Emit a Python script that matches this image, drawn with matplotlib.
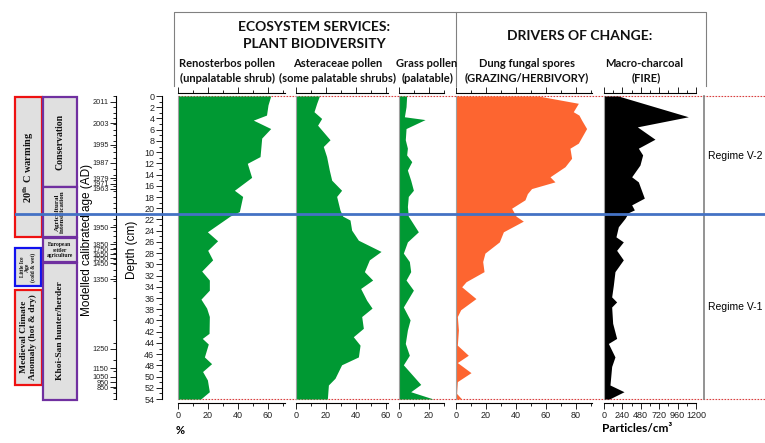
import matplotlib
matplotlib.use('Agg')
import matplotlib.pyplot as plt
from matplotlib.patches import Rectangle

plt.rcParams['font.family'] = ['Liberation Sans', 'DejaVu Sans']
plt.rcParams['mathtext.fontset'] = 'stix'

# ---- data (depth in cm) ----
reno_depth = [0, 1.6, 3.4, 4.3, 5.8, 7.5, 10.8, 12.0, 14.5, 16.8, 17.9, 20.6, 21.4, 24.2, 25.8,
              27.5, 29.2, 31.2, 32.8, 34.6, 36.2, 37.8, 39.3, 42.3, 43.2, 44.2, 46.5, 47.7,
              49.1, 50.6, 52.7, 54]
reno_pct = [61.8, 60, 59, 50.2, 61.8, 55.8, 54.7, 46.2, 49.1, 37.6, 43.1, 40.9, 34.7, 19.6, 26.4,
            19.8, 23.1, 15.8, 20.9, 20.9, 15.3, 19.1, 20.9, 20.7, 16.2, 20.2, 17.6, 22.4,
            16.4, 19.6, 20.9, 15.1]

aster_depth = [0, 1.3, 2.8, 4.0, 5.2, 7.8, 9.0, 10.8, 13.2, 15.0, 16.8, 17.9, 20.3, 21.4, 22.1,
               23.9, 25.7, 27.7, 29.2, 31.3, 32.8, 34.3, 36.4, 37.8, 39.3, 41.4, 42.9, 44.4,
               46.5, 47.9, 50.3, 51.5, 54]
aster_pct = [15.6, 13.8, 12, 17.1, 14.4, 22.7, 18.2, 20.4, 22.2, 23.8, 30.4, 27.1, 29.3, 31.1, 36,
             37.1, 41.6, 56.7, 48.9, 45.6, 51.1, 43.1, 47.1, 50.7, 43.8, 44.9, 38.2, 42.7,
             41.6, 30.4, 26, 21.6, 20.9]

grass_depth = [0, 1.9, 3.7, 4.2, 5.8, 7.8, 9.3, 10.5, 11.7, 13.2, 15.0, 16.8, 17.9, 19.7, 21.4,
               24.2, 26.0, 28.0, 29.5, 31.3, 32.8, 34.6, 37.6, 39.9, 41.7, 44.1, 46.2, 47.9,
               51.4, 52.7, 54]
grass_pct = [5.3, 4.9, 3.8, 17.6, 4.9, 4.4, 5.8, 5.3, 8.7, 5.8, 8, 9.8, 6.4, 5.8, 6.4,
             13.1, 5.8, 3.1, 7.1, 8, 4.9, 9.8, 3.1, 7.6, 5.8, 4.4, 7.1, 3.1,
             14.7, 8, 23.1]

dung_depth = [0, 1.3, 2.8, 3.4, 4.3, 5.8, 8.4, 9.3, 11.1, 12.6, 14.4, 15.3, 16.5, 17.4, 18.5,
              20.0, 21.4, 22.3, 24.2, 26.0, 28.0, 29.5, 31.3, 33.1, 34.0, 36.1, 38.1, 39.3,
              41.7, 44.4, 46.2, 47.5, 49.3, 50.9, 53.0, 54]
dung_pct = [54.9, 81.6, 78.2, 82, 83.8, 87.1, 81.6, 76, 77.1, 72.7, 62.7, 66, 50.4, 47.6, 46,
            37.1, 40, 44.9, 31.6, 28.9, 19.3, 17.8, 18.7, 6.7, 3.8, 13.3, 3.1, 0.9,
            1.6, 0.9, 8.2, 0.9, 10, 0.9, 0.4, 3.8]

char_depth = [0, 3.7, 5.5, 7.7, 9.3, 10.5, 12.3, 14.4, 15.3, 18.2, 19.4, 20.3, 20.8, 21.8, 23.3,
              25.1, 26.0, 27.5, 29.2, 31.3, 33.7, 35.8, 36.7, 37.6, 40.5, 43.2, 44.1, 46.5,
              48.2, 51.5, 52.7, 54]
char_conc = [187, 1100, 435, 665, 448, 504, 469, 361, 448, 526, 361, 396, 317, 274, 187,
             156, 252, 165, 252, 143, 122, 100, 165, 100, 113, 165, 57, 143,
             100, 78, 261, 70]

age_depth = [1.0, 4.9, 8.7, 11.9, 14.7, 15.6, 16.5, 23.4, 26.4, 27.3, 28.2, 28.9, 29.8, 32.7,
             45.0, 48.5, 50.0, 51.0, 51.9]
age_labels = ['2011', '2003', '1995', '1987', '1979', '1971', '1963', '1950', '1850', '1750',
              '1650', '1550', '1450', '1350', '1250', '1150', '1050', '950', '850']
age_minor = list(range(0, 34)) + [36, 40, 44, 47, 49, 52, 53, 54]

boundary_depth = 21.1
regimes = ['Regime V-2', 'Regime V-1']

# ---- layout helpers ----
W, H = 765, 443
fig = plt.figure(figsize=(W / 100, H / 100), dpi=100)


def px_axes(x0, x1, y0, y1):
    return fig.add_axes([x0 / W, 1 - y1 / H, (x1 - x0) / W, (y1 - y0) / H])


Y0, Y1 = 93, 402.5
YLIM = (54.62, -0.535)
GREY = '#a0a0a0'

# red dotted top/bottom lines behind the panels
bg = px_axes(178, 765, Y0, Y1)
bg.set_ylim(YLIM)
bg.axis('off')
for d in (0, 54):
    bg.axhline(d, color='#d94040', ls=(0, (1.5, 1.2)), lw=0.8)


def panel(x0, x1, xmax, depth, vals, color, major, minor):
    ax = px_axes(x0, x1, Y0, Y1)
    ax.set_facecolor('none')
    ax.fill_betweenx(depth, 0, vals, color=color, lw=0)
    ax.set_xlim(0, xmax)
    ax.set_ylim(YLIM)
    ax.spines['right'].set_visible(False)
    ax.spines['left'].set_color(GREY)
    ax.spines['left'].set_bounds(0, 54)
    for s in ('top', 'bottom'):
        ax.spines[s].set_linewidth(0.8)
    ax.set_yticks([])
    ax.set_xticks(major)
    ax.set_xticks(minor, minor=True)
    ax.tick_params(axis='x', which='both', top=True, bottom=True, labeltop=False,
                   direction='out', labelsize=6.5, pad=2, width=0.7, colors='#222222')
    ax.tick_params(axis='x', which='major', length=4)
    ax.tick_params(axis='x', which='minor', length=2)
    return ax


panel(178, 284.5, 71, reno_depth, reno_pct, '#009933', [0, 20, 40, 60], [10, 30, 50, 70])
panel(296, 387.5, 61, aster_depth, aster_pct, '#009933', [0, 20, 40, 60], [10, 30, 50])
panel(398.7, 443.7, 30, grass_depth, grass_pct, '#009933', [0, 20], [10, 30])
panel(456, 591.7, 90.5, dung_depth, dung_pct, '#fd6530', [0, 20, 40, 60, 80], [10, 30, 50, 70, 90])
panel(604, 696, 1200, char_depth, char_conc, 'black', [0, 240, 480, 720, 960, 1200],
      [120, 360, 600, 840, 1080])

# regime column
reg = px_axes(704, 765, Y0, Y1)
reg.set_facecolor('none')
reg.set_ylim(YLIM)
for s in ('top', 'bottom', 'right'):
    reg.spines[s].set_visible(False)
reg.spines['left'].set_color('#808080')
reg.spines['left'].set_linewidth(1.2)
reg.spines['left'].set_bounds(0, 54)
reg.set_xticks([])
reg.set_yticks([])

# depth axis
axd = px_axes(162, 163, Y0, Y1)
axd.set_facecolor('none')
axd.set_ylim(YLIM)
for s in ('top', 'bottom', 'right'):
    axd.spines[s].set_visible(False)
axd.spines['left'].set_bounds(0, 54)
axd.spines['left'].set_linewidth(0.8)
axd.set_xticks([])
axd.set_yticks(range(0, 55, 2))
axd.set_yticks(range(0, 55, 1), minor=True)
axd.tick_params(axis='y', which='both', labelsize=6.5, pad=1.5, width=0.7, colors='#222222')
axd.tick_params(axis='y', which='major', length=4)
axd.tick_params(axis='y', which='minor', length=2)

# age axis
axa = px_axes(116, 117, Y0, Y1)
axa.set_facecolor('none')
axa.set_ylim(YLIM)
for s in ('top', 'bottom', 'right'):
    axa.spines[s].set_visible(False)
axa.spines['left'].set_bounds(0, 54)
axa.spines['left'].set_linewidth(0.8)
axa.set_xticks([])
axa.set_yticks(age_depth, age_labels)
axa.set_yticks(age_minor, minor=True)
axa.tick_params(axis='y', which='both', labelsize=5.3, pad=1.2, width=0.7, colors='#222222')
axa.tick_params(axis='y', which='major', length=4)
axa.tick_params(axis='y', which='minor', length=2)

# overlay in pixel coordinates for headers and side boxes
ov = fig.add_axes([0, 0, 1, 1])
ov.set_facecolor('none')
ov.set_xlim(0, W)
ov.set_ylim(H, 0)
ov.axis('off')

ov.plot([174, 174, 456, 456], [86, 12, 12, 86], color='#808080', lw=0.8)
ov.plot([456, 706, 706], [12, 12, 86], color='#808080', lw=0.8)

hdr = dict(family=['Lato', 'DejaVu Sans'], weight='bold', ha='center', va='center', color='#111111')
ov.text(314, 27, 'ECOSYSTEM SERVICES:', fontsize=10, **hdr)
ov.text(314, 44, 'PLANT BIODIVERSITY', fontsize=10, **hdr)
ov.text(580, 36, 'DRIVERS OF CHANGE:', fontsize=10, **hdr)

sub = dict(family=['Lato', 'DejaVu Sans'], weight='bold', ha='center', va='center',
           fontsize=8, color='#111111')
ov.text(227, 63, 'Renosterbos pollen', **sub)
ov.text(228, 78, '(unpalatable shrub)', **sub)
ov.text(338, 63, 'Asteraceae pollen', **sub)
ov.text(338, 78, '(some palatable shrubs)', **sub)
ov.text(427, 63, 'Grass pollen', **sub)
ov.text(428, 78, '(palatable)', **sub)
ov.text(527, 63, 'Dung fungal spores', **sub)
ov.text(527, 78, '(GRAZING/HERBIVORY)', **sub)
ov.text(644, 63, 'Macro-charcoal', **sub)
ov.text(646, 78, '(FIRE)', **sub)

ov.text(180, 430, '%', family=['Lato', 'DejaVu Sans'], weight='bold', fontsize=8,
        ha='center', va='center')
ov.text(637, 429, 'Particles/cm³', family=['Lato', 'DejaVu Sans'], weight='bold', fontsize=8.5,
        ha='center', va='center')

ov.text(735, 156, regimes[0], fontsize=7.5, ha='center', va='center')
ov.text(735, 307, regimes[1], fontsize=7.5, ha='center', va='center')

ov.text(87, 240, 'Modelled calibrated age (AD)', rotation=90, fontsize=8.5,
        ha='center', va='center')
ov.text(132, 250, 'Depth (cm)', rotation=90, fontsize=8.5, ha='center', va='center')

# side boxes: (x0, y0, x1, y1, edge colour)
boxes = [
    (15, 97, 42, 237, '#ee1111'),
    (15, 248, 41, 286, '#1111ee'),
    (15, 290, 42, 385, '#ee1111'),
    (43, 97, 77, 187, '#7030a0'),
    (43, 187, 77, 237, '#7030a0'),
    (43, 238, 77, 262, '#7030a0'),
    (43, 263, 77, 400, '#7030a0'),
]
for x0, y0, x1, y1, ec in boxes:
    ov.add_patch(Rectangle((x0, y0), x1 - x0, y1 - y0, facecolor='#e0e0e0', edgecolor=ec, lw=1.6))

serif = dict(family=['Liberation Serif', 'DejaVu Serif'], weight='bold', ha='center',
             va='center', color='#111111')
ov.text(28.5, 167, r'20$^{\mathbf{th}}$ C warming', rotation=90, fontsize=7.5, **serif)
ov.text(28, 267, 'Little Ice\nAge\n(cold & wet)', rotation=90, fontsize=4, linespacing=1.0, **serif)
ov.text(28.5, 337, 'Medieval Climate\nAnomaly (hot & dry)', rotation=90, fontsize=6.8,
        linespacing=1.3, **serif)
ov.text(60, 142, 'Conservation', rotation=90, fontsize=7, **serif)
ov.text(60, 212, 'Agricultural\nintensification', rotation=90, fontsize=5, linespacing=1.0, **serif)
ov.text(60, 250, 'European\nsettler\nagriculture', fontsize=4, linespacing=1.1, **serif)
ov.text(60, 331, 'Khoi-San hunter/herder', rotation=90, fontsize=6.8, **serif)

# boundary line on top of everything
top = px_axes(15, 765, Y0, Y1)
top.set_facecolor('none')
top.set_ylim(YLIM)
top.axis('off')
top.axhline(boundary_depth, color='#4472c4', lw=2)

fig.savefig('out.png', dpi=100)
